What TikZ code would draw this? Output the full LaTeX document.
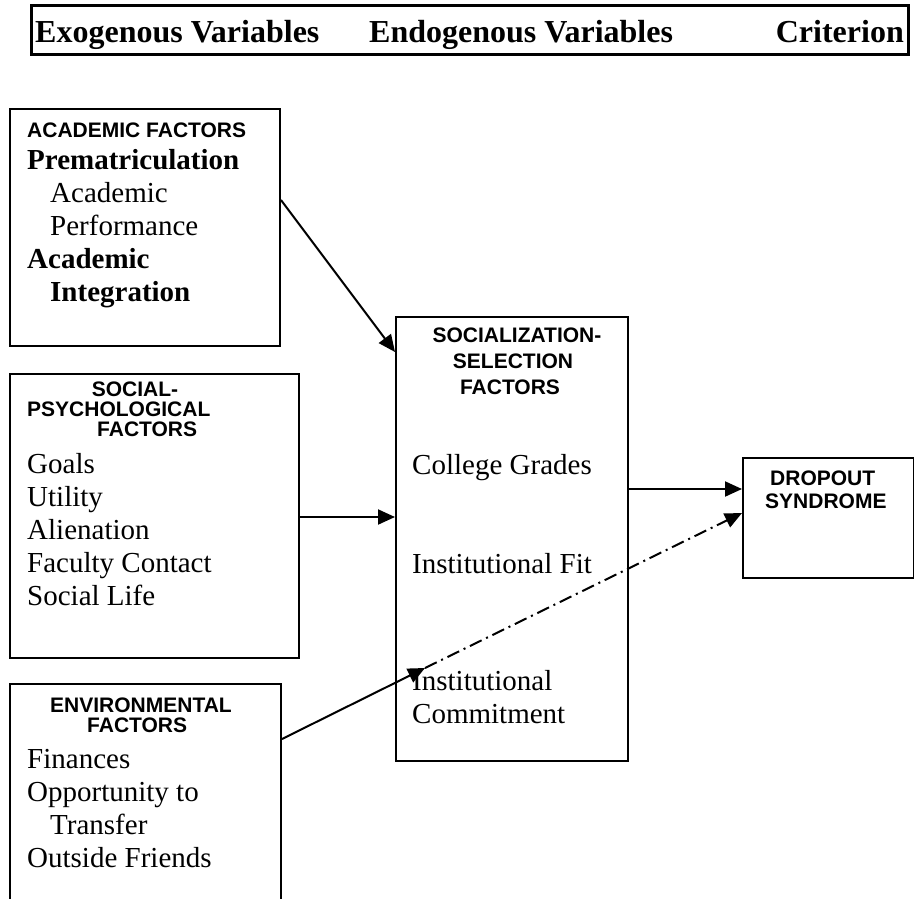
\documentclass[tikz,border=0pt]{standalone}
\usepackage{fontspec}
\setmainfont{Liberation Serif}
\setsansfont{Liberation Sans}
\usetikzlibrary{arrows.meta}

\tikzset{
  box/.style={draw, line width=2pt, anchor=north west, inner sep=0pt},
  title/.style={font=\fontsize{32}{36}\selectfont\bfseries, inner sep=0pt},
  head/.style={font=\fontsize{21}{24}\selectfont\sffamily\bfseries, inner sep=0pt},
  item/.style={font=\fontsize{29}{33}\selectfont, anchor=base west, inner sep=0pt},
  bitem/.style={item, font=\fontsize{29}{33}\selectfont\bfseries},
  link/.style={line width=2pt, -{Triangle[length=17pt,width=15pt]}},
}

\begin{document}
\begin{tikzpicture}[x=1pt,y=-1pt]
    \useasboundingbox (0,0) rectangle (914,898);
    \fill[white] (0,0) rectangle (914,898);
    \clip (0,0) rectangle (914,898);

    \node[box, line width=2.5pt, minimum width=877pt, minimum height=49pt] (hdr) at (30,4) {};
    \node[title, anchor=base west] (exo) at (35,42) {Exogenous Variables};
    \node[title, anchor=base west] (endo) at (369,42) {Endogenous Variables};
    \node[title, anchor=base east] (crit) at (904,42) {Criterion};

    \node[box, minimum width=270pt, minimum height=237pt] (acadbox) at (9,108) {};
    \node[head, anchor=base west] (acadh) at (27,137) {ACADEMIC FACTORS};
    \node[bitem] (prem) at (27,169) {Prematriculation};
    \node[item] (perf1) at (50,202) {Academic};
    \node[item] (perf2) at (50,235) {Performance};
    \node[bitem] (integ1) at (27,268) {Academic};
    \node[bitem] (integ2) at (50,301) {Integration};

    \node[box, minimum width=289pt, minimum height=284pt] (psybox) at (9,373) {};
    \node[head, anchor=base] (psyh1) at (135,396) {SOCIAL-};
    \node[head, anchor=base west] (psyh2) at (27,416) {PSYCHOLOGICAL};
    \node[head, anchor=base west] (psyh3) at (97,436) {FACTORS};
    \node[item] (goals) at (27,473) {Goals};
    \node[item] (util) at (27,506) {Utility};
    \node[item] (alien) at (27,539) {Alienation};
    \node[item] (fac) at (27,572) {Faculty Contact};
    \node[item] (life) at (27,605) {Social Life};

    \node[box, minimum width=271pt, minimum height=240pt] (envbox) at (9,683) {};
    \node[head, anchor=base west] (envh1) at (50,712) {ENVIRONMENTAL};
    \node[head, anchor=base west] (envh2) at (87,732) {FACTORS};
    \node[item] (fin) at (27,768) {Finances};
    \node[item] (opp1) at (27,801) {Opportunity to};
    \node[item] (opp2) at (50,834) {Transfer};
    \node[item] (friends) at (27,867) {Outside Friends};

    \node[box, minimum width=232pt, minimum height=444pt] (socbox) at (395,316) {};
    \node[head, anchor=base] (soch1) at (517,342) {SOCIALIZATION-};
    \node[head, anchor=base] (soch2) at (513,368) {SELECTION};
    \node[head, anchor=base] (soch3) at (510,394) {FACTORS};
    \node[item] (grades) at (412,474) {College Grades};
    \node[item] (fit) at (412,573) {Institutional Fit};
    \node[item] (comm1) at (412,690) {Institutional};
    \node[item] (comm2) at (412,723) {Commitment};

    \node[box, minimum width=171pt, minimum height=120pt] (dropbox) at (742,457) {};
    \node[head, anchor=base west] (droph1) at (770,485) {DROPOUT};
    \node[head, anchor=base west] (droph2) at (765,508) {SYNDROME};

    \draw[link] ([yshift=-92pt]acadbox.north east) -- ([yshift=-36pt]socbox.north west);
    \draw[link] ([yshift=-144pt]psybox.north east) -- ([yshift=-201pt]socbox.north west);
    \draw[link] ([yshift=-173pt]socbox.north east) -- ([yshift=-32pt]dropbox.north west);
    \coordinate (turn) at (425,668);
    \draw[link] ([yshift=-56pt]envbox.north east) -- (turn);
    \draw[link, dash pattern=on 13pt off 5pt on 2pt off 5pt] (turn) -- ([yshift=-56pt]dropbox.north west);
\end{tikzpicture}
\end{document}
